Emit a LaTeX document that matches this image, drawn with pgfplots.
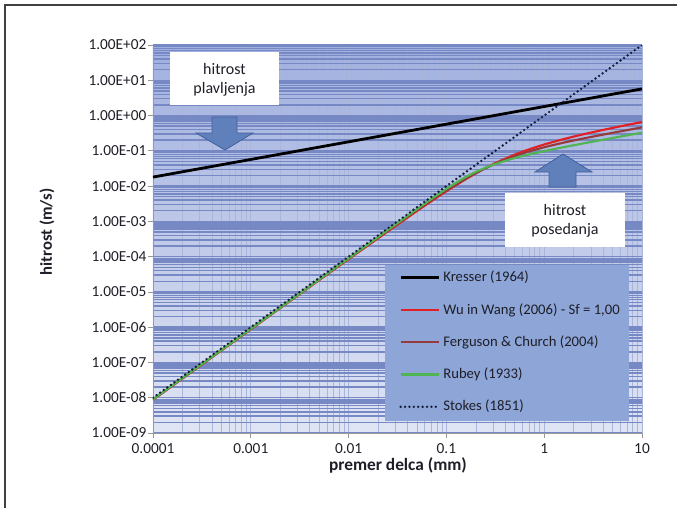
\documentclass[border=0pt]{standalone}
\usepackage{fontspec}
\setmainfont{Carlito}
\usepackage{pgfplots}
\pgfplotsset{compat=1.18}
\definecolor{bgtop}{RGB}{160,175,222}
\definecolor{bgbot}{RGB}{224,229,244}
\definecolor{gridc}{RGB}{118,137,196}
\definecolor{vgridc}{RGB}{170,181,218}
\definecolor{legbg}{RGB}{141,166,215}
\definecolor{arrowc}{RGB}{96,128,188}
\definecolor{arrowd}{RGB}{66,96,156}
\definecolor{wwred}{RGB}{226,32,36}
\definecolor{fcbrown}{RGB}{150,58,60}
\definecolor{rugreen}{RGB}{80,180,80}
\definecolor{stokesc}{RGB}{20,30,60}
\definecolor{txt}{RGB}{30,30,40}
\begin{document}
\begin{tikzpicture}
\path[use as bounding box] (0,0) rectangle (507.75pt,381pt);
\begin{axis}[
  at={(114.75pt,56.25pt)}, anchor=south west,
  scale only axis, width=366.75pt, height=291pt,
  xmode=log, ymode=log,
  xmin=1e-4, xmax=10, ymin=1e-9, ymax=1e2,
  xtick={1e-4,1e-3,1e-2,1e-1,1,10},
  xticklabels={0.0001,0.001,0.01,0.1,1,10},
  ytick={1e-9,1e-8,1e-7,1e-6,1e-5,1e-4,1e-3,1e-2,1e-1,1,10,100},
  yticklabels={1.00E-09,1.00E-08,1.00E-07,1.00E-06,1.00E-05,1.00E-04,1.00E-03,1.00E-02,1.00E-01,1.00E+00,1.00E+01,1.00E+02},
  minor xtick={2e-4,3e-4,4e-4,5e-4,6e-4,7e-4,8e-4,9e-4,
    2e-3,3e-3,4e-3,5e-3,6e-3,7e-3,8e-3,9e-3,
    2e-2,3e-2,4e-2,5e-2,6e-2,7e-2,8e-2,9e-2,
    2e-1,3e-1,4e-1,5e-1,6e-1,7e-1,8e-1,9e-1,
    2,3,4,5,6,7,8,9},
  minor ytick={2e-9,3e-9,4e-9,5e-9,6e-9,7e-9,8e-9,9e-9,
    2e-8,3e-8,4e-8,5e-8,6e-8,7e-8,8e-8,9e-8,
    2e-7,3e-7,4e-7,5e-7,6e-7,7e-7,8e-7,9e-7,
    2e-6,3e-6,4e-6,5e-6,6e-6,7e-6,8e-6,9e-6,
    2e-5,3e-5,4e-5,5e-5,6e-5,7e-5,8e-5,9e-5,
    2e-4,3e-4,4e-4,5e-4,6e-4,7e-4,8e-4,9e-4,
    2e-3,3e-3,4e-3,5e-3,6e-3,7e-3,8e-3,9e-3,
    2e-2,3e-2,4e-2,5e-2,6e-2,7e-2,8e-2,9e-2,
    2e-1,3e-1,4e-1,5e-1,6e-1,7e-1,8e-1,9e-1,
    2,3,4,5,6,7,8,9,20,30,40,50,60,70,80,90},
  xmajorgrids, xminorgrids, ymajorgrids, yminorgrids,
  major y grid style={draw=gridc, line width=1.1pt},
  minor y grid style={draw=gridc, line width=1.1pt},
  major x grid style={draw=vgridc, line width=0.45pt},
  minor x grid style={draw=vgridc, line width=0.45pt},
  axis background/.style={top color=bgtop, bottom color=bgbot},
  axis lines*=left,
  axis line style={-, draw=gray!80, line width=0.6pt},
  tick align=outside,
  major tick length=3.75pt, minor tick length=0pt,
  tick style={draw=gray!80, line width=0.6pt},
  xtick pos=bottom, ytick pos=left,
  ticklabel style={font=\fontsize{11.5}{13}\selectfont, text=txt},
  yticklabel style={inner xsep=1pt},
  xticklabel style={inner ysep=4pt},
  legend cell align=left,
  legend image code/.code={\draw[#1] (0pt,0pt) -- (29pt,0pt);},
  legend style={at={(0.503,0.418)}, anchor=north west, draw=none, fill=none,
    inner sep=0pt, row sep=14.2pt, column sep=2pt,
    nodes={inner sep=0pt, text height=8pt, text depth=2pt, font=\fontsize{11}{13}\selectfont, text=txt}},
]
\addplot[black, line width=2.1pt] coordinates {(1e-4,0.018) (10,5.7)};
\addlegendentry{Kresser (1964)}
\addplot[wwred, line width=1.6pt, smooth] coordinates {
 (1e-4,8.7e-9) (1e-3,8.7e-7) (3e-3,7.8e-6) (0.01,8.5e-5) (0.03,7.3e-4)
 (0.05,1.97e-3) (0.07,3.72e-3) (0.1,7.15e-3) (0.15,0.01441) (0.2,0.02307)
 (0.3,0.04182) (0.5,0.07807) (0.7,0.1100) (1,0.1510) (1.5,0.2068) (2,0.2530)
 (3,0.3287) (5,0.4455) (7,0.5390) (10,0.6546)};
\addlegendentry{Wu in Wang (2006) - Sf = 1,00}
\addplot[fcbrown, line width=1.6pt, smooth] coordinates {
 (1e-4,8.99e-9) (1e-3,8.99e-7) (3e-3,8.09e-6) (0.01,8.94e-5) (0.03,7.844e-4)
 (0.05,2.104e-3) (0.07,3.958e-3) (0.1,7.53e-3) (0.15,0.01493) (0.2,0.02324)
 (0.3,0.04035) (0.5,0.07105) (0.7,0.0961) (1,0.1263) (1.5,0.1652) (2,0.1964)
 (3,0.2467) (5,0.3238) (7,0.3853) (10,0.4622)};
\addlegendentry{Ferguson \& Church (2004)}
\addplot[rugreen, line width=1.6pt, smooth] coordinates {
 (1e-4,8.99e-9) (1e-3,8.99e-7) (3e-3,8.08e-6) (0.01,8.99e-5) (0.03,8.077e-4)
 (0.05,2.228e-3) (0.07,4.30e-3) (0.1,8.40e-3) (0.15,0.01673) (0.2,0.0253)
 (0.3,0.04031) (0.5,0.06243) (0.7,0.07876) (1,0.09805) (1.5,0.1233) (2,0.1439)
 (3,0.1779) (5,0.2311) (7,0.2740) (10,0.3279)};
\addlegendentry{Rubey (1933)}
\addplot[stokesc, line width=2pt, line cap=round, dash pattern=on 0pt off 3.3pt] coordinates {(1e-4,1e-8) (10,100)};
\addlegendentry{Stokes (1851)}
\fill[legbg] (rel axis cs:0.474,0.433) rectangle (rel axis cs:0.973,0.031);
\end{axis}
\begin{scope}[shift={(0pt,381pt)}, x=0.75pt, y=-0.75pt]
  % frame
  \draw[black!75, line width=1.1pt] (677,5) -- (5,5) -- (5,508);
  % box plavljenja
  \fill[white] (170,52) rectangle (279,105);
  \node[font=\fontsize{12}{14}\selectfont, text=txt] at (224.5,69) {hitrost};
  \node[font=\fontsize{12}{14}\selectfont, text=txt] at (224.5,89) {plavljenja};
  % down arrow
  \draw[arrowd, fill=arrowc, line width=0.6pt] (212,117) -- (237,117) -- (237,133) -- (253,133) -- (225,150) -- (196,133) -- (212,133) -- cycle;
  % up arrow
  \draw[arrowd, fill=arrowc, line width=0.6pt] (549,187) -- (576,187) -- (576,172) -- (592,172) -- (563,154) -- (535,172) -- (549,172) -- cycle;
  % box posedanja
  \fill[white] (505,193) rectangle (625,247);
  \node[font=\fontsize{12}{14}\selectfont, text=txt] at (565,210) {hitrost};
  \node[font=\fontsize{12}{14}\selectfont, text=txt] at (565,230) {posedanja};
  % axis titles
  \node[font=\bfseries\fontsize{12.5}{14}\selectfont, text=txt, rotate=90] at (47,232) {hitrost (m/s)};
  \node[font=\bfseries\fontsize{13}{15}\selectfont, text=txt] at (398,465) {premer delca (mm)};
\end{scope}
\end{tikzpicture}
\end{document}
